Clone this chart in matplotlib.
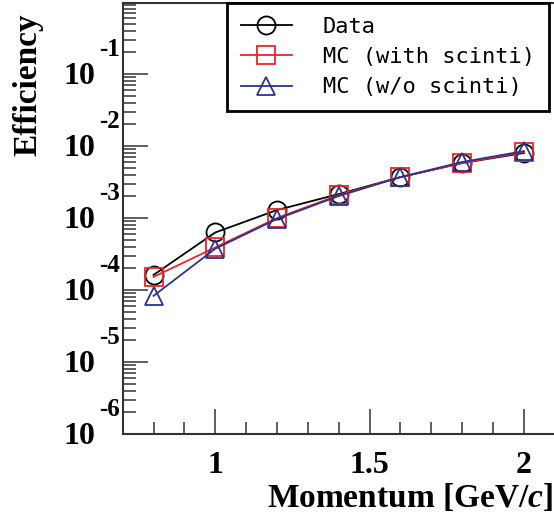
import matplotlib
matplotlib.use("Agg")
import matplotlib.pyplot as plt
import matplotlib.transforms as mtransforms
from matplotlib.ticker import MultipleLocator, LogLocator, NullFormatter

plt.rcParams['mathtext.fontset'] = 'custom'
plt.rcParams['mathtext.it'] = 'Liberation Serif:bold:italic'
plt.rcParams['mathtext.rm'] = 'Liberation Serif:bold'

momentum = [0.8, 1.0, 1.2, 1.4, 1.6, 1.8, 2.0]
eff_data = [1.62e-4, 6.3e-4, 1.29e-3, 2.15e-3, 3.7e-3, 5.8e-3, 8.0e-3]
eff_mc_with = [1.52e-4, 3.9e-4, 1.0e-3, 2.08e-3, 3.7e-3, 5.8e-3, 8.25e-3]
eff_mc_without = [8.3e-5, 3.75e-4, 9.7e-4, 2.02e-3, 3.7e-3, 6.0e-3, 8.5e-3]
labels = ["Data", "MC (with scinti)", "MC (w/o scinti)"]
decades = [1e-6, 1e-5, 1e-4, 1e-3, 1e-2, 1e-1]
exponents = ["-6", "-5", "-4", "-3", "-2", "-1"]
xticks = [1.0, 1.5, 2.0]
xticklabels = ["1", "1.5", "2"]

W, H = 554, 518
fig = plt.figure(figsize=(W / 100, H / 100), dpi=100)
x0, x1 = 122.7, 554.8
ytop, ybot = 3.3, 434
ax = fig.add_axes([x0 / W, 1 - ybot / H, (x1 - x0) / W, (ybot - ytop) / H])

spine_col = '#333333'
ax.plot(momentum, eff_data, color='black', lw=1.3, marker='o', ms=13,
        mfc='none', mec='black', mew=1.3, label=labels[0])
ax.plot(momentum, eff_mc_with, color='#e8252a', lw=1.3, marker='s', ms=12.5,
        mfc='none', mec='#e8252a', mew=1.3, label=labels[1])
ax.plot(momentum, eff_mc_without, color='#2b3390', lw=1.3, marker='^', ms=13,
        mfc='none', mec='#2b3390', mew=1.3, label=labels[2])

ax.set_yscale('log')
ax.set_ylim(1e-6, 0.96)
ax.set_xlim(0.7, 2.1)

ax.spines['right'].set_visible(False)
for s in ['left', 'bottom', 'top']:
    ax.spines[s].set_color(spine_col)
    ax.spines[s].set_linewidth(1.5)

ax.set_xticks(xticks)
ax.set_xticklabels(xticklabels)
ax.xaxis.set_minor_locator(MultipleLocator(0.1))
ax.tick_params(axis='x', which='both', direction='in', top=False, color=spine_col, width=1.1)
ax.tick_params(axis='x', which='major', length=18, pad=12)
ax.tick_params(axis='x', which='minor', length=9)
for lab in ax.get_xticklabels():
    lab.set_fontfamily('Liberation Serif')
    lab.set_fontweight('bold')
    lab.set_fontsize(23)

ax.set_yticks(decades)
ax.yaxis.set_minor_locator(LogLocator(base=10, subs=range(2, 10), numticks=20))
ax.yaxis.set_minor_formatter(NullFormatter())
ax.set_yticklabels([''] * len(decades))
ax.tick_params(axis='y', which='both', direction='in', right=False, color=spine_col, width=1.1)
ax.tick_params(axis='y', which='major', length=18)
ax.tick_params(axis='y', which='minor', length=9)

base_tr = ax.get_yaxis_transform()
tr10 = mtransforms.offset_copy(base_tr, fig=fig, x=-(x0 - 95), y=-2, units='dots')
trexp = mtransforms.offset_copy(base_tr, fig=fig, x=-(x0 - 99), y=25, units='dots')
for d, e in zip(decades, exponents):
    ax.text(0, d, "10", transform=tr10, ha='right', va='center',
            fontfamily='Liberation Serif', fontweight='bold', fontsize=23, clip_on=False)
    ax.text(0, d, e, transform=trexp, ha='left', va='center',
            fontfamily='Liberation Serif', fontweight='bold', fontsize=18, clip_on=False)

fig.text(28 / W, 1 - 85 / H, "Efficiency", rotation=90, ha='center', va='center',
         fontfamily='Liberation Serif', fontweight='bold', fontsize=24)
fig.text(553 / W, 1 - 498 / H, r"Momentum [GeV/$\mathit{c}$]", ha='right', va='center',
         fontfamily='Liberation Serif', fontweight='bold', fontsize=24)

leg = ax.legend(loc='upper left', bbox_to_anchor=(227 / W, 1 - 3 / H),
                bbox_transform=fig.transFigure, borderaxespad=0,
                prop={'family': 'DejaVu Sans Mono', 'size': 15.8},
                frameon=True, fancybox=False, edgecolor='black', framealpha=1,
                handlelength=2.35, handletextpad=1.4, labelspacing=0.47,
                borderpad=0.62, markerscale=1.0)
leg.get_frame().set_linewidth(2)

fig.savefig("out.png", dpi=100)
